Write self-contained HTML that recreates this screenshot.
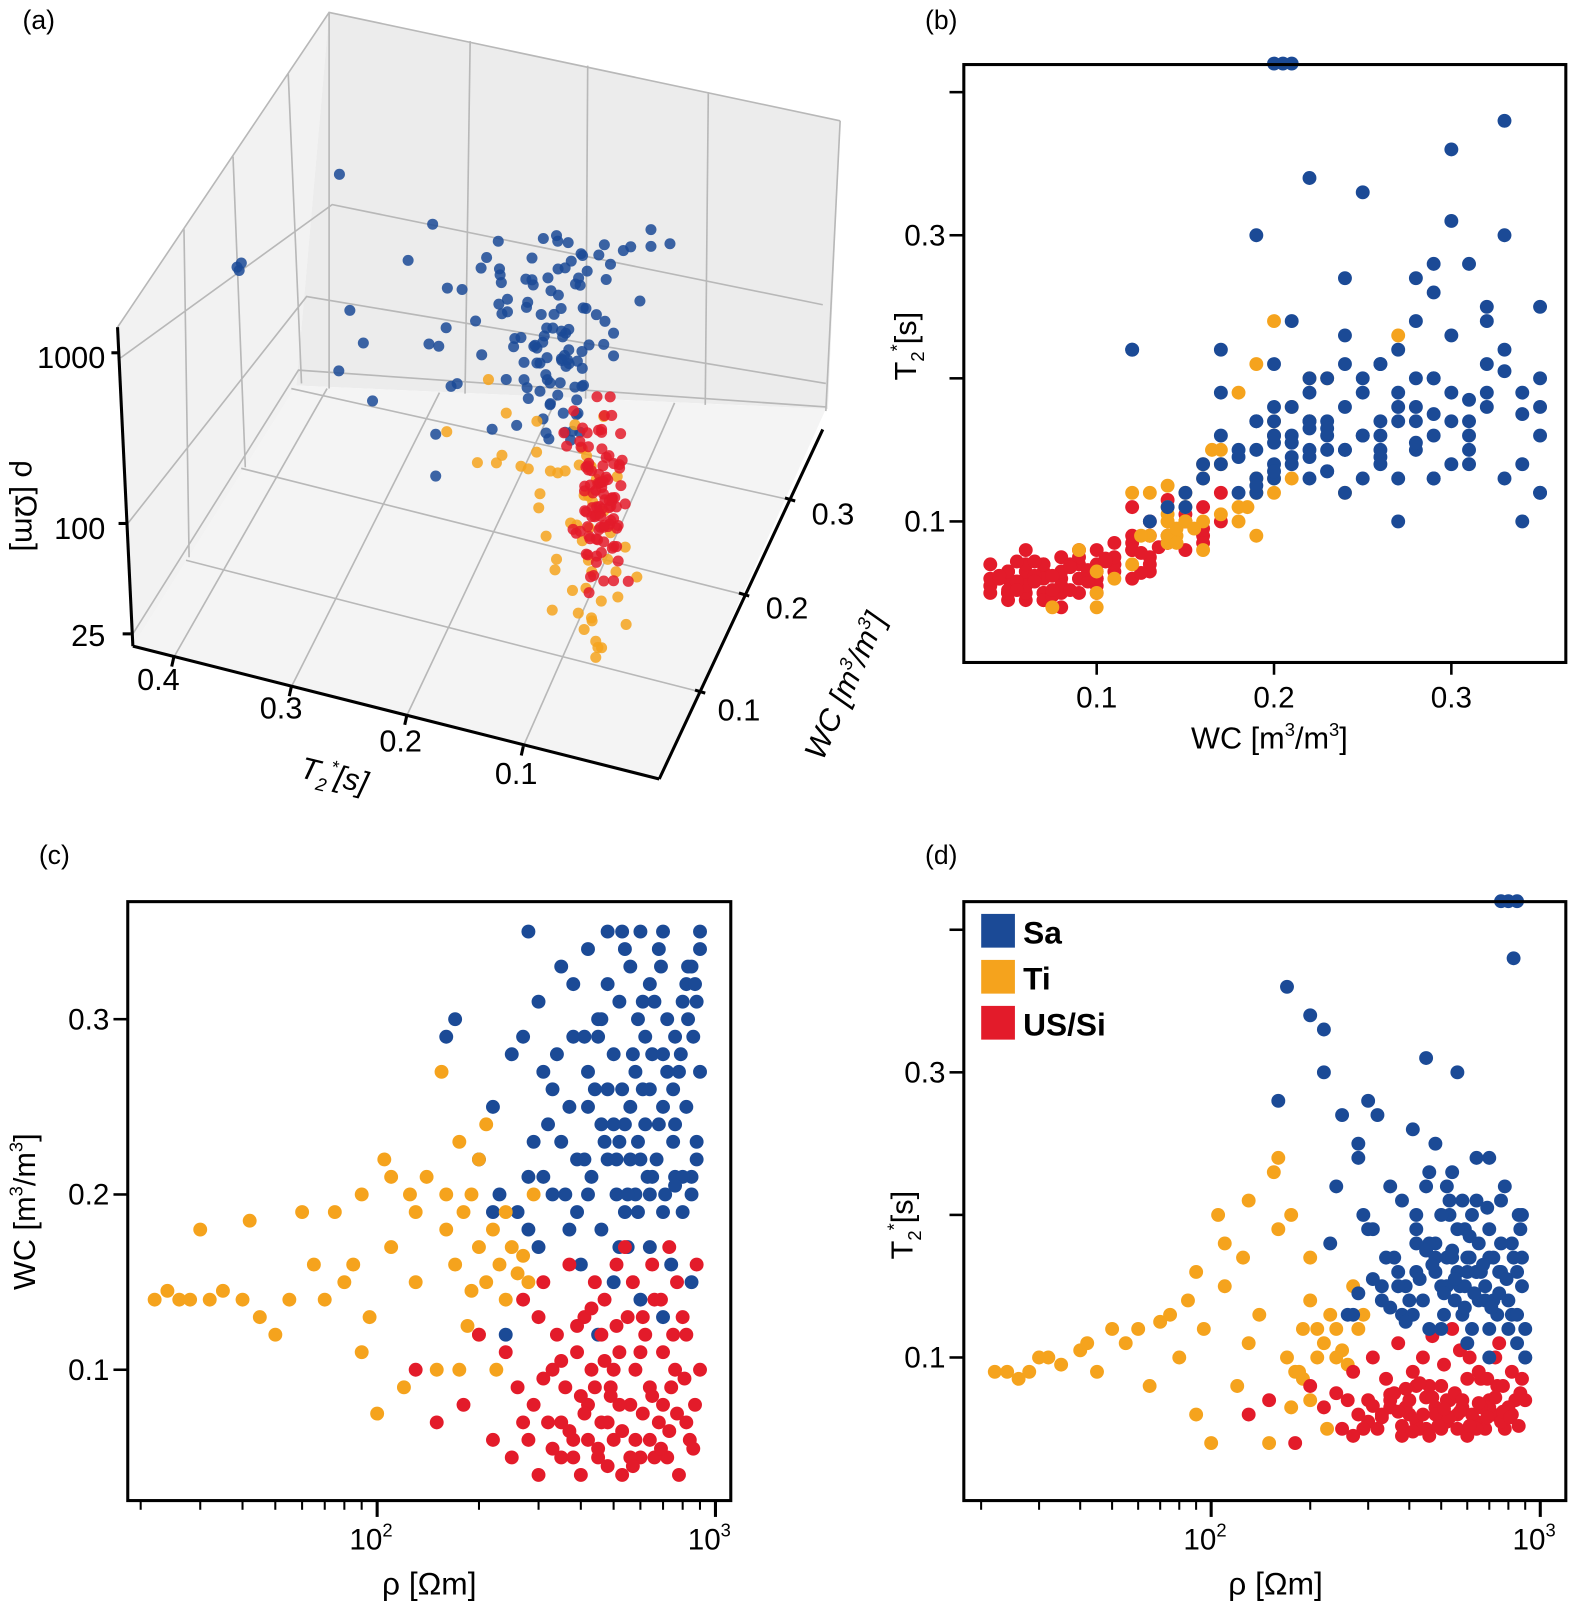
<!DOCTYPE html>
<html><head><meta charset="utf-8">
<style>
html,body{margin:0;padding:0;background:#fff;}
svg{display:block;font-family:"Liberation Sans",Arial,sans-serif;}
</style></head>
<body>
<svg id="fig" width="1574" height="1605" viewBox="0 0 1540 1570" xmlns="http://www.w3.org/2000/svg">
<g id="pa"></g>
<g id="pb"></g>
<g id="pc"></g>
<g id="pd"></g>
</svg>
<script>
// data: [rho (Ohm m), WC (m3/m3), T2* (s)]
const saPoints=[[280,0.35,0.25],[480,0.35,0.18],[530,0.35,0.2],[600,0.35,0.16],[680,0.34,0.14],[700,0.35,0.12],[350,0.33,0.22],[420,0.34,0.19],[560,0.33,0.3],[640,0.32,0.24],[820,0.32,0.18],[880,0.31,0.15],[300,0.31,0.28],[380,0.32,0.21],[460,0.3,0.23],[520,0.31,0.17],[590,0.3,0.19],[720,0.3,0.14],[860,0.29,0.2],[270,0.29,0.13],[340,0.28,0.17],[410,0.29,0.26],[500,0.28,0.2],[570,0.28,0.15],[650,0.28,0.18],[780,0.27,0.22],[900,0.27,0.1],[310,0.27,0.19],[440,0.26,0.14],[530,0.26,0.21],[610,0.26,0.17],[700,0.25,0.19],[820,0.25,0.13],[370,0.25,0.16],[460,0.24,0.18],[540,0.24,0.23],[620,0.24,0.12],[750,0.23,0.16],[880,0.23,0.17],[290,0.23,0.2],[390,0.22,0.15],[480,0.22,0.17],[560,0.22,0.19],[650,0.21,0.14],[760,0.21,0.18],[850,0.21,0.16],[230,0.2,0.18],[330,0.2,0.14],[420,0.2,0.16],[510,0.2,0.13],[590,0.19,0.15],[700,0.19,0.17],[800,0.19,0.12],[260,0.19,0.13],[370,0.18,0.15],[460,0.18,0.12],[550,0.17,0.14],[640,0.17,0.16],[740,0.16,0.13],[850,0.15,0.11],[300,0.17,0.19],[400,0.16,0.14],[500,0.15,0.12],[600,0.14,0.11],[700,0.13,0.1],[450,0.12,0.22],[280,0.21,0.24],[320,0.24,0.27],[200,0.22,0.34],[220,0.25,0.33],[250,0.28,0.27],[160,0.29,0.28],[170,0.3,0.36],[330,0.26,0.15],[380,0.29,0.13],[420,0.27,0.18],[480,0.26,0.16],[520,0.23,0.15],[560,0.25,0.16],[600,0.22,0.17],[640,0.2,0.16],[680,0.24,0.15],[720,0.27,0.17],[760,0.29,0.16],[800,0.31,0.14],[850,0.33,0.13],[900,0.34,0.1],[900,0.35,0.12],[880,0.22,0.2],[360,0.2,0.17],[410,0.22,0.13],[500,0.24,0.15],[540,0.19,0.17],[580,0.27,0.13],[620,0.29,0.2],[660,0.31,0.16],[850,0.2,0.42],[800,0.21,0.42],[760,0.205,0.42],[830,0.33,0.38],[240,0.12,0.22],[220,0.19,0.3],[450,0.3,0.31],[480,0.32,0.25],[520,0.17,0.22],[580,0.2,0.21],[420,0.25,0.2],[700,0.28,0.24],[640,0.26,0.21],[760,0.24,0.21],[430,0.21,0.155],[470,0.23,0.165],[510,0.22,0.145],[550,0.2,0.155],[590,0.23,0.135],[630,0.21,0.145],[670,0.22,0.165],[710,0.2,0.135],[750,0.26,0.145],[790,0.28,0.155],[830,0.3,0.17],[870,0.32,0.19],[390,0.19,0.125],[350,0.23,0.135],[310,0.21,0.155],[280,0.18,0.145],[450,0.29,0.175],[610,0.31,0.185],[690,0.33,0.205],[540,0.34,0.175]];
const tiPoints=[[22,0.14,0.09],[24,0.145,0.09],[26,0.14,0.085],[28,0.14,0.09],[32,0.14,0.1],[35,0.145,0.095],[30,0.18,0.1],[40,0.14,0.105],[42,0.185,0.11],[45,0.13,0.09],[50,0.12,0.12],[55,0.14,0.11],[60,0.19,0.12],[65,0.16,0.08],[70,0.14,0.125],[75,0.19,0.13],[80,0.15,0.1],[85,0.16,0.14],[90,0.2,0.16],[95,0.13,0.12],[100,0.075,0.04],[105,0.22,0.2],[110,0.17,0.15],[120,0.09,0.08],[125,0.2,0.17],[130,0.15,0.11],[140,0.21,0.13],[150,0.1,0.04],[155,0.27,0.23],[160,0.18,0.19],[170,0.16,0.1],[175,0.23,0.2],[180,0.19,0.09],[190,0.2,0.12],[200,0.17,0.14],[210,0.15,0.1],[220,0.18,0.11],[230,0.16,0.13],[240,0.19,0.12],[250,0.17,0.105],[260,0.155,0.095],[270,0.165,0.15],[280,0.15,0.12],[225,0.1,0.05],[200,0.22,0.17],[190,0.145,0.085],[175,0.1,0.065],[160,0.2,0.24],[130,0.19,0.21],[110,0.21,0.18],[90,0.11,0.06],[240,0.14,0.1],[290,0.2,0.13],[210,0.24,0.12],[185,0.125,0.09],[200,0.12,0.07]];
const usPoints=[[250,0.05,0.05],[280,0.06,0.06],[300,0.04,0.055],[320,0.07,0.05],[350,0.05,0.065],[380,0.06,0.045],[400,0.04,0.06],[420,0.08,0.055],[450,0.05,0.05],[480,0.07,0.065],[500,0.06,0.05],[530,0.04,0.07],[560,0.08,0.06],[600,0.05,0.045],[640,0.06,0.055],[680,0.07,0.05],[720,0.05,0.06],[780,0.04,0.05],[840,0.06,0.07],[260,0.09,0.07],[290,0.08,0.05],[330,0.1,0.06],[360,0.09,0.075],[390,0.11,0.065],[430,0.1,0.05],[460,0.12,0.08],[490,0.09,0.06],[520,0.11,0.07],[550,0.13,0.075],[580,0.1,0.065],[620,0.12,0.06],[660,0.14,0.085],[700,0.11,0.07],[740,0.09,0.08],[800,0.13,0.065],[870,0.08,0.075],[270,0.14,0.09],[310,0.15,0.1],[340,0.12,0.085],[370,0.16,0.11],[410,0.13,0.09],[440,0.15,0.1],[470,0.14,0.115],[510,0.16,0.095],[540,0.17,0.12],[570,0.15,0.105],[610,0.13,0.1],[650,0.16,0.09],[690,0.14,0.085],[730,0.17,0.1],[770,0.15,0.08],[820,0.12,0.09],[880,0.16,0.085],[180,0.08,0.04],[150,0.07,0.07],[130,0.1,0.06],[220,0.06,0.065],[240,0.11,0.075],[200,0.12,0.08],[460,0.07,0.045],[350,0.07,0.07],[520,0.08,0.055],[580,0.06,0.07],[640,0.09,0.05],[700,0.08,0.065],[760,0.1,0.055],[820,0.07,0.06],[900,0.1,0.07],[480,0.045,0.06],[560,0.05,0.05],[300,0.13,0.07],[420,0.06,0.08],[270,0.07,0.045],[600,0.11,0.085],[750,0.12,0.11],[500,0.1,0.08],[400,0.085,0.07],[660,0.05,0.065],[440,0.09,0.06],[380,0.05,0.052],[330,0.055,0.058],[370,0.065,0.062],[410,0.075,0.048],[450,0.055,0.072],[490,0.085,0.052],[530,0.065,0.058],[570,0.045,0.062],[610,0.075,0.052],[650,0.085,0.068],[690,0.055,0.058],[730,0.065,0.072],[770,0.075,0.062],[810,0.095,0.058],[860,0.055,0.052],[310,0.095,0.066],[350,0.105,0.074],[390,0.125,0.078],[430,0.135,0.082],[470,0.105,0.072],[510,0.125,0.064]];
const classNames=["Sa","Ti","US/Si"];
const classColors=["#1b4a96","#f5a31d","#e31b2a"];
const wcTicks=[0.1,0.2,0.3];
const t2Ticks=[0.1,0.2,0.3,0.4];
const t2Labels=["0.1","","0.3",""];
const rhoTicks3d=[25,100,1000];

const NS="http://www.w3.org/2000/svg";
function mk(parent,tag,attrs,text){const e=document.createElementNS(NS,tag);for(const k in attrs)e.setAttribute(k,attrs[k]);if(text!==undefined)e.textContent=text;parent.appendChild(e);return e;}
const allSets=[saPoints,tiPoints,usPoints];

// ---------- Panel (a) 3D ----------
const pa=document.getElementById('pa');
function p3(t2,wc,rho){const dt=0.435-t2, dw=wc-0.01, dr=Math.log10(rho)-1.322;
  return [135+dt*1140+dw*420, 650+dt*290-dw*800-dr*150];}
let e;
e=mk(pa,'polygon',{points:"115,320 322,12 290,377 130,632",fill:"#f2f2f2",stroke:"none"});

e=mk(pa,'polygon',{points:"322,12 822,118 810,400 290,377",fill:"#ececec",stroke:"none"});

e=mk(pa,'polygon',{points:"130,632 290,377 808,400 645,762",fill:"#f4f4f4",stroke:"none"});

const grid=mk(pa,'g',{stroke:"#b8b8b8","stroke-width":"1.6",fill:"none"});

[[115,320,130,632],[180,224,185,545],[228,153,240,457],[282,72,295,375],[322,12,322,380]].forEach(l=>mk(grid,'line',{x1:l[0],y1:l[1],x2:l[2],y2:l[3]}));
[[460,40,455,385],[575,64,573,390],[693,90,690,396],[822,118,808,402]].forEach(l=>mk(grid,'line',{x1:l[0],y1:l[1],x2:l[2],y2:l[3]}));
[[118,350,325,200,805,298],[125,512,300,290,808,375],[130,620,292,362,808,398]].forEach(l=>mk(grid,'polyline',{points:`${l[0]},${l[1]} ${l[2]},${l[3]} ${l[4]},${l[5]}`}));
mk(grid,'polyline',{points:"115,320 322,12 822,118"});
[[170,643,320,380],[285,672,430,384],[398,700,545,389],[512,730,660,394]].forEach(l=>mk(grid,'line',{x1:l[0],y1:l[1],x2:l[2],y2:l[3]}));
[[690,678,182,548],[733,583,236,458],[778,490,285,380]].forEach(l=>mk(grid,'line',{x1:l[0],y1:l[1],x2:l[2],y2:l[3]}));
const ax3=mk(pa,'g',{stroke:"#000","stroke-width":"3",fill:"none"});

mk(ax3,'line',{x1:115,y1:320,x2:130,y2:632});
mk(ax3,'line',{x1:130,y1:632,x2:645,y2:762});
mk(ax3,'line',{x1:645,y1:762,x2:805,y2:420});
[[170,643],[285,672],[398,700],[512,730]].forEach(p=>mk(ax3,'line',{x1:p[0],y1:p[1],x2:p[0]-2,y2:p[1]+9}));
[[690,678],[733,583],[778,490]].forEach(p=>mk(ax3,'line',{x1:p[0],y1:p[1],x2:p[0]-10,y2:p[1]-3}));
[[117,345],[124,512],[128,620]].forEach(p=>mk(ax3,'line',{x1:p[0],y1:p[1],x2:p[0]-8,y2:p[1]}));
const tl3=mk(pa,'g',{"font-size":"30",fill:"#000"});

[["0.4",155,675],["0.3",275,703],["0.2",392,735],["0.1",505,767]].forEach(t=>mk(tl3,'text',{x:t[1],y:t[2],"text-anchor":"middle"},t[0]));
[["0.3",815,513],["0.2",770,605],["0.1",723,705]].forEach(t=>mk(tl3,'text',{x:t[1],y:t[2],"text-anchor":"middle"},t[0]));
rhoTicks3d.forEach((r,i)=>{const ys=[632,527,360];mk(tl3,'text',{x:103,y:ys[i],"text-anchor":"end"},String(r));});
e=mk(pa,'text',{x:0,y:0,"font-size":"30","font-style":"italic",transform:"translate(292,760) rotate(14)"});
e.innerHTML='T<tspan font-size="18" dy="8">2</tspan><tspan font-size="18" dy="-20">*</tspan><tspan dy="12">[s]</tspan>';

e=mk(pa,'text',{x:0,y:0,"font-size":"30","font-style":"italic",transform:"translate(805,745) rotate(-66)"});
e.innerHTML='WC [m<tspan font-size="18" dy="-12">3</tspan><tspan dy="12">/m</tspan><tspan font-size="18" dy="-12">3</tspan><tspan dy="12">]</tspan>';

e=mk(pa,'text',{x:0,y:0,"font-size":"30",transform:"translate(15,450) rotate(90)"},'ρ [Ωm]');

const pts3=mk(pa,'g',{});

[0,1,2].forEach(ci=>{allSets[ci].forEach(p=>{const q=p3(p[2],p[1],p[0]);
  const c=mk(pts3,'circle',{cx:q[0].toFixed(1),cy:q[1].toFixed(1),r:5.4,fill:classColors[ci],"fill-opacity":0.85});
  
  });});

// ---------- generic 2D panel ----------
function panel(g,box,xf,yf,order,pick){
  const [x0,y0,x1,y1]=box;
  const pts=mk(g,'g',{});
  
  order.forEach(ci=>{allSets[ci].forEach(p=>{const v=pick(p);
    const c=mk(pts,'circle',{cx:xf(v[0]).toFixed(1),cy:yf(v[1]).toFixed(1),r:6.8,fill:classColors[ci]});
    
    });});
  const fr=mk(g,'rect',{x:x0,y:y0,width:x1-x0,height:y1-y0,fill:"none",stroke:"#000","stroke-width":"3"});
  
}
function yAxisT2orWC(g,box,yf,ticks,labels,x0){
  ticks.forEach((t,i)=>{const y=yf(t);
    const l=mk(g,'line',{x1:x0-14,y1:y,x2:x0,y2:y,stroke:"#000","stroke-width":"2.5"});
    
    if(labels[i]){const tx=mk(g,'text',{x:x0-18,y:y+10,"text-anchor":"end","font-size":"29"},labels[i]);
      }});
}
function logXAxis(g,xf,lo,hi,yb){
  for(let d=1;d<=3;d++){for(let m=1;m<=9;m++){const v=m*Math.pow(10,d);if(v<lo||v>hi)continue;
    const x=xf(v);const major=(m===1);
    const l=mk(g,'line',{x1:x,y1:yb,x2:x,y2:yb+(major?16:9),stroke:"#000","stroke-width":major?"3":"2"});
    
    if(major){const t=mk(g,'text',{x:x-6,y:yb+48,"text-anchor":"middle","font-size":"29"});
      t.innerHTML='10<tspan font-size="18" dy="-13">'+d+'</tspan>';
      }}}
}

// ---------- Panel (b) ----------
const pb=document.getElementById('pb');
const bx=v=>1073+(v-0.1)*1735, by=v=>510-(v-0.1)*1400;
panel(pb,[943,63,1532,648],bx,by,[2,1,0],p=>[p[1],p[2]]);
yAxisT2orWC(pb,null,by,t2Ticks,t2Labels,943);
wcTicks.forEach(t=>{const x=bx(t);const l=mk(pb,'line',{x1:x,y1:648,x2:x,y2:660,stroke:"#000","stroke-width":"2.5"});
  
  const tx=mk(pb,'text',{x:x,y:692,"text-anchor":"middle","font-size":"29"},String(t));
  });
e=mk(pb,'text',{x:1242,y:732,"text-anchor":"middle","font-size":"30"});
e.innerHTML='WC [m<tspan font-size="18" dy="-12">3</tspan><tspan dy="12">/m</tspan><tspan font-size="18" dy="-12">3</tspan><tspan dy="12">]</tspan>';

e=mk(pb,'text',{x:0,y:0,"font-size":"30",transform:"translate(896,372) rotate(-90)"});
e.innerHTML='T<tspan font-size="18" dy="8">2</tspan><tspan font-size="18" dy="-20">*</tspan><tspan dy="12">[s]</tspan>';


// ---------- Panel (c) ----------
const pc=document.getElementById('pc');
const cx=v=>369+(Math.log10(v)-2)*331, cy=v=>1340-(v-0.1)*1715;
panel(pc,[125,882,715,1468],cx,cy,[0,1,2],p=>[p[0],p[1]]);
yAxisT2orWC(pc,null,cy,wcTicks,["0.1","0.2","0.3"],125);
logXAxis(pc,cx,18.5,1100,1468);
e=mk(pc,'text',{x:420,y:1560,"text-anchor":"middle","font-size":"31"},'ρ [Ωm]');

e=mk(pc,'text',{x:0,y:0,"font-size":"30",transform:"translate(34,1262) rotate(-90)"});
e.innerHTML='WC [m<tspan font-size="18" dy="-12">3</tspan><tspan dy="12">/m</tspan><tspan font-size="18" dy="-12">3</tspan><tspan dy="12">]</tspan>';


// ---------- Panel (d) ----------
const pd=document.getElementById('pd');
const dx=v=>1185+(Math.log10(v)-2)*322, dy=v=>1328-(v-0.1)*1395;
panel(pd,[943,882,1532,1468],dx,dy,[1,2,0],p=>[p[0],p[2]]);
yAxisT2orWC(pd,null,dy,t2Ticks,t2Labels,943);
logXAxis(pd,dx,18,1150,1468);
e=mk(pd,'text',{x:1248,y:1560,"text-anchor":"middle","font-size":"31"},'ρ [Ωm]');

e=mk(pd,'text',{x:0,y:0,"font-size":"30",transform:"translate(893,1232) rotate(-90)"});
e.innerHTML='T<tspan font-size="18" dy="8">2</tspan><tspan font-size="18" dy="-20">*</tspan><tspan dy="12">[s]</tspan>';

const leg=mk(pd,'g',{});

mk(leg,'rect',{x:950,y:888,width:152,height:140,fill:"#fff"});
classNames.forEach((n,i)=>{const y=894+i*45;
  const s=mk(leg,'rect',{x:960,y:y,width:33,height:33,fill:classColors[i]});
  
  const t=mk(leg,'text',{x:1001,y:y+29,"font-size":"31","font-weight":"bold"},n);
  });

[["(a)",22,28],["(b)",905,28],["(c)",38,845],["(d)",905,845]].forEach(t=>{
  const l=mk(document.getElementById('fig'),'text',{x:t[1],y:t[2],"font-size":"26"},t[0]);
  });
</script>
</body></html>
